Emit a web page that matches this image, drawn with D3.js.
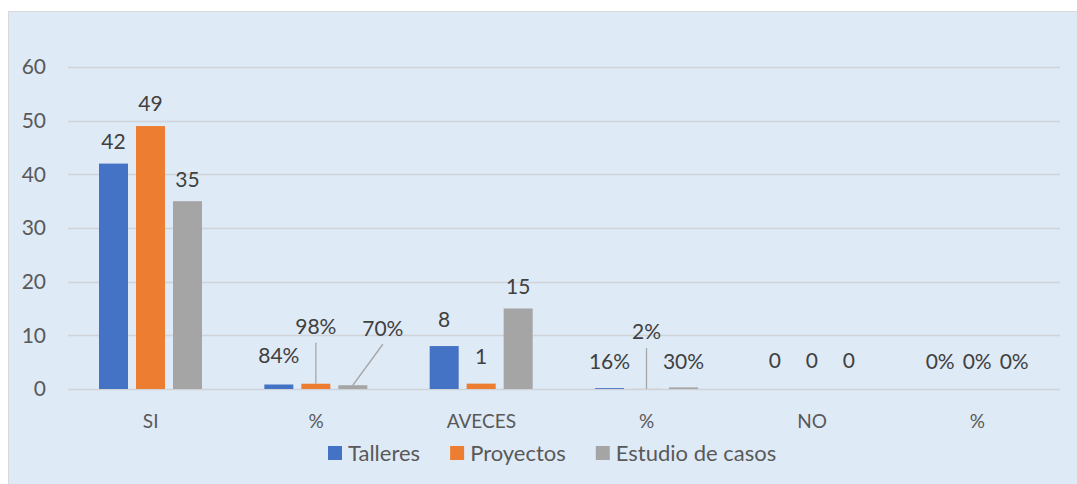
<!DOCTYPE html>
<html>
<head>
<meta charset="utf-8">
<script src="https://cdn.jsdelivr.net/npm/d3@7"></script>
<style>
  body { margin: 0; background: #fff; }
  text { font-family: Lato, "Open Sans", sans-serif; }
</style>
</head>
<body>
<svg id="chart"></svg>
<script>
// data
const categories = ["SI", "%", "AVECES", "%", "NO", "%"];
const series = ["Talleres", "Proyectos", "Estudio de casos"];
const talleres = [42, 0.84, 8, 0.16, 0, 0];
const proyectos = [49, 0.98, 1, 0.02, 0, 0];
const estudio = [35, 0.70, 15, 0.30, 0, 0];
const labels = [
  ["42", "84%", "8", "16%", "0", "0%"],
  ["49", "98%", "1", "2%", "0", "0%"],
  ["35", "70%", "15", "30%", "0", "0%"]
];
const yTicks = [0, 10, 20, 30, 40, 50, 60];

const values = [talleres, proyectos, estudio];
const colors = ["#4472C4", "#ED7D31", "#A5A5A5"];

// label offsets (dx, dy from default spot above the bar), and leader lines
const labelShift = [
  [[0, 0], [0, -7], [0, -4], [0, -4], [0, -6], [0, -5]],
  [[0, 0], [0, -35], [0, -5], [0, -35], [0, -6], [0, -5]],
  [[0, 0], [30, -35], [0, 0], [0, -4], [0, -6], [0, -5]]
];
const leaders = [[1, 1], [2, 1], [1, 3]]; // [series, category]

const W = 1077, H = 484;
const margin = { top: 67, left: 68, right: 17, bottom: 95 };

const svg = d3.select("#chart").attr("width", W).attr("height", H);

// chart area
svg.append("rect")
  .attr("x", 8.5).attr("y", 11.5)
  .attr("width", W).attr("height", H)
  .attr("fill", "#DEEAF6")
  .attr("stroke", "#D9D9D9");

const x0 = d3.scaleBand()
  .domain(d3.range(categories.length))
  .range([margin.left, W - margin.right]);

const x1 = d3.scaleBand()
  .domain(d3.range(series.length))
  .range([31, 134])
  .paddingInner(8 / 37);

const y = d3.scaleLinear()
  .domain([0, 60])
  .range([H - margin.bottom, margin.top]);

// gridlines
svg.append("g").selectAll("line")
  .data(yTicks)
  .enter().append("line")
  .attr("x1", margin.left).attr("x2", W - margin.right)
  .attr("y1", d => Math.round(y(d)) + 0.5)
  .attr("y2", d => Math.round(y(d)) + 0.5)
  .attr("stroke", "#D0D3D8")
  .attr("stroke-width", 1.5);

// y tick labels
svg.append("g").selectAll("text")
  .data(yTicks)
  .enter().append("text")
  .attr("x", 46)
  .attr("y", d => y(d))
  .attr("dy", "0.35em")
  .attr("text-anchor", "end")
  .attr("font-size", 21)
  .attr("fill", "#595959")
  .text(d => d);

// x labels
svg.append("g").selectAll("text")
  .data(categories)
  .enter().append("text")
  .attr("x", (d, i) => x0(i) + x0.bandwidth() / 2)
  .attr("y", y(0) + 32)
  .attr("dy", "0.35em")
  .attr("text-anchor", "middle")
  .attr("font-size", 19)
  .attr("fill", "#595959")
  .text(d => d);

// bars
const groups = svg.append("g").selectAll("g")
  .data(values)
  .enter().append("g")
  .attr("fill", (d, i) => colors[i]);

groups.each(function(vals, s) {
  d3.select(this).selectAll("rect")
    .data(vals)
    .enter().append("rect")
    .attr("x", (d, i) => x0(i) + x1(s))
    .attr("y", d => y(d))
    .attr("width", x1.bandwidth())
    .attr("height", d => y(0) - y(d));
});

const labelX = (s, i) => x0(i) + x1(s) + x1.bandwidth() / 2 + labelShift[s][i][0];
const labelY = (s, i) => y(values[s][i]) - 22 + labelShift[s][i][1];

// leader lines
svg.append("g").selectAll("line")
  .data(leaders)
  .enter().append("line")
  .attr("x1", d => labelX(d[0], d[1]))
  .attr("y1", d => labelY(d[0], d[1]) + 16)
  .attr("x2", d => x0(d[1]) + x1(d[0]) + x1.bandwidth() / 2)
  .attr("y2", d => y(values[d[0]][d[1]]))
  .attr("stroke", "#A6A6A6")
  .attr("stroke-width", 1.3);

// data labels
values.forEach((vals, s) => {
  svg.append("g").selectAll("text")
    .data(vals)
    .enter().append("text")
    .attr("x", (d, i) => labelX(s, i))
    .attr("y", (d, i) => labelY(s, i))
    .attr("dy", "0.35em")
    .attr("text-anchor", "middle")
    .attr("font-size", 21)
    .attr("fill", "#404040")
    .text((d, i) => labels[s][i]);
});

// legend
const legend = svg.append("g");
let lx = 328;
series.forEach((name, i) => {
  legend.append("rect")
    .attr("x", lx).attr("y", 446)
    .attr("width", 14).attr("height", 14)
    .attr("fill", colors[i]);
  const t = legend.append("text")
    .attr("x", lx + 20)
    .attr("y", 453)
    .attr("dy", "0.35em")
    .attr("font-size", 22)
    .attr("fill", "#595959")
    .text(name);
  lx += 20 + t.node().getComputedTextLength() + 30;
});
</script>
</body>
</html>
